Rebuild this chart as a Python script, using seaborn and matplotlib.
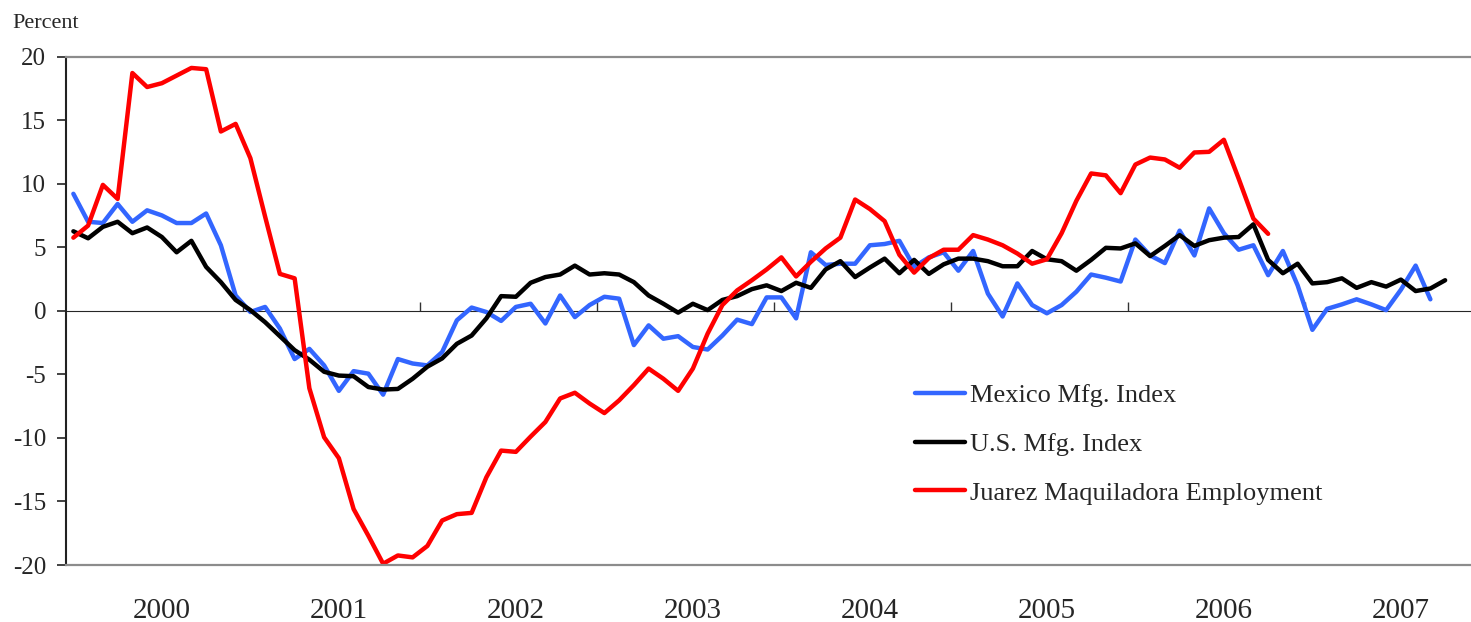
import numpy as np
import pandas as pd
import matplotlib
matplotlib.use("Agg")
import matplotlib.pyplot as plt
import seaborn as sns

# Year-over-year growth, monthly, Jan 2000 onwards (category axis, one slot per month)
months = pd.period_range("2000-01", "2007-10", freq="M")
years = ["2000", "2001", "2002", "2003", "2004", "2005", "2006", "2007"]

mexico_mfg = [
    9.2, 7.0, 6.9, 8.4, 7.0, 7.9, 7.5, 6.9, 6.9, 7.65,
    5.15, 1.2, -0.1, 0.3, -1.4, -3.8, -3.0, -4.3, -6.3, -4.75,
    -4.95, -6.6, -3.8, -4.15, -4.3, -3.25, -0.75, 0.25, -0.1, -0.8,
    0.3, 0.55, -1.0, 1.2, -0.5, 0.45, 1.1, 0.95, -2.7, -1.15,
    -2.2, -2.0, -2.85, -3.05, -1.95, -0.7, -1.05, 1.05, 1.05, -0.6,
    4.6, 3.6, 3.7, 3.7, 5.15, 5.25, 5.5, 3.45, 4.2, 4.6,
    3.15, 4.7, 1.35, -0.45, 2.15, 0.45, -0.2, 0.45, 1.5, 2.85,
    2.6, 2.3, 5.6, 4.35, 3.75, 6.3, 4.35, 8.05, 6.1, 4.8,
    5.15, 2.8, 4.7, 2.0, -1.5, 0.15, 0.5, 0.9, 0.5, 0.05,
    1.65, 3.55, 0.9,
]

us_mfg = [
    6.25, 5.7, 6.6, 7.0, 6.1, 6.55, 5.8, 4.6, 5.5, 3.45,
    2.25, 0.85, 0.05, -0.9, -2.0, -3.1, -3.85, -4.8, -5.1, -5.15,
    -6.0, -6.2, -6.15, -5.35, -4.4, -3.75, -2.6, -1.95, -0.6, 1.15,
    1.1, 2.2, 2.65, 2.85, 3.55, 2.85, 2.95, 2.85, 2.25, 1.2,
    0.55, -0.15, 0.55, 0.05, 0.85, 1.15, 1.7, 2.0, 1.55, 2.2,
    1.8, 3.25, 3.9, 2.65, 3.4, 4.1, 2.95, 4.0, 2.9, 3.65,
    4.1, 4.1, 3.9, 3.5, 3.5, 4.7, 4.05, 3.9, 3.15, 4.0,
    4.95, 4.9, 5.3, 4.3, 5.1, 5.95, 5.1, 5.55, 5.75, 5.8,
    6.8, 4.0, 2.95, 3.7, 2.15, 2.25, 2.55, 1.8, 2.25, 1.9,
    2.45, 1.55, 1.75, 2.4,
]

juarez_emp = [
    5.75, 6.7, 9.9, 8.8, 18.7, 17.6, 17.9, 18.5, 19.1, 19.0,
    14.1, 14.7, 12.0, 7.4, 2.9, 2.55, -6.1, -9.95, -11.6, -15.6,
    -17.7, -19.9, -19.25, -19.4, -18.5, -16.5, -16.0, -15.9, -13.1, -11.0,
    -11.1, -9.9, -8.75, -6.9, -6.45, -7.3, -8.05, -7.05, -5.85, -4.55,
    -5.35, -6.3, -4.55, -1.8, 0.45, 1.6, 2.4, 3.25, 4.2, 2.7,
    3.85, 4.9, 5.75, 8.75, 8.0, 7.05, 4.4, 3.0, 4.15, 4.8,
    4.8, 5.95, 5.6, 5.15, 4.5, 3.7, 4.05, 6.1, 8.65, 10.8,
    10.65, 9.25, 11.5, 12.05, 11.9, 11.25, 12.45, 12.5, 13.45, 10.4,
    7.25, 6.05,
]

series_names = ["Mexico Mfg. Index", "U.S. Mfg. Index", "Juarez Maquiladora Employment"]
series_colors = ["#3366FF", "#000000", "#FF0000"]


def main():
    sns.set_style("white")
    plt.rcParams["font.family"] = ["Liberation Serif", "DejaVu Serif"]
    plt.rcParams["axes.unicode_minus"] = False

    frames = []
    for name, vals in zip(series_names, [mexico_mfg, us_mfg, juarez_emp]):
        frames.append(pd.DataFrame({
            "month": np.arange(len(vals)),
            "value": vals,
            "series": name,
        }))
    df = pd.concat(frames, ignore_index=True)

    W, H = 1471, 622
    fig = plt.figure(figsize=(W / 100, H / 100), dpi=100)
    ax = fig.add_axes([66 / W, 57 / H, (W - 66) / W, 508.5 / H])

    sns.lineplot(data=df, x="month", y="value", hue="series", hue_order=series_names,
                 palette=dict(zip(series_names, series_colors)), estimator=None,
                 linewidth=3.2, ax=ax)

    ax.set_xlim(-0.5, (W - 66) / 14.75 - 0.5)
    ax.set_ylim(-20, 20)
    ax.set_xlabel("")
    ax.set_ylabel("")

    # y axis
    ax.set_yticks(np.arange(-20, 21, 5))
    ax.tick_params(axis="y", direction="out", length=6.3, width=1.2, color="#222222",
                   labelsize=18, pad=8, left=True)
    ax.spines["left"].set_color("#222222")
    ax.spines["left"].set_linewidth(1.5)
    ax.spines["right"].set_visible(False)
    for side in ["top", "bottom"]:
        ax.spines[side].set_color("#8c8c8c")
        ax.spines[side].set_linewidth(1.6)

    # year labels centred under each year
    ax.set_xticks([12 * k + 6 for k in range(len(years))])
    ax.set_xticklabels(years)
    ax.tick_params(axis="x", length=0, labelsize=21, pad=24)

    # zero axis with year-boundary tick marks
    zero_ax = ax.secondary_xaxis(0.5)
    zero_ax.set_xticks([12 * k - 0.5 for k in range(1, len(years))])
    zero_ax.set_xticklabels([])
    zero_ax.tick_params(direction="out", length=6.5, width=1.0, color="#333333")
    zero_ax.spines["bottom"].set_color("#555555")
    zero_ax.spines["bottom"].set_linewidth(1.1)

    handles, labels = ax.get_legend_handles_labels()
    ax.legend(handles, labels, loc="upper left",
              bbox_to_anchor=(915 / W, 1 - 384 / H), bbox_transform=fig.transFigure,
              frameon=False, fontsize=19, handlelength=1.9, handletextpad=0.2,
              labelspacing=0.95, borderpad=0, borderaxespad=0)

    fig.text(12 / W, 1 - 23 / H, "Percent", fontsize=16, va="center", ha="left")

    fig.savefig("out.png", dpi=100)
    plt.close(fig)


if __name__ == "__main__":
    main()
